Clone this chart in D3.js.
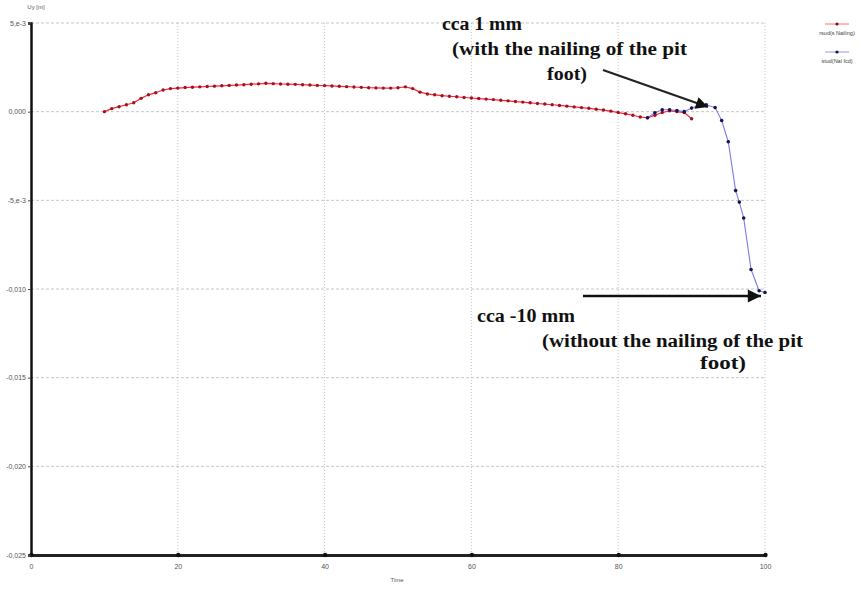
<!DOCTYPE html>
<html>
<head>
<meta charset="utf-8">
<style>
    body { margin: 0; background: #fff; }
    svg { display: block; font-family: Arial, sans-serif; }
    .note { font-family: 'Liberation Serif', 'DejaVu Serif', serif; font-weight: bold; font-size: 18px; fill: #111; }
    .tick text { fill: #555; font-size: 7px; }
</style>
</head>
<body>
<svg width="866" height="589"></svg>

<script src="https://d3js.org/d3.v7.min.js"></script>
<script>
// red series (with nailing) - time / Uy in mm (converted to m below)
let redX = [10,11,12,13,14,15,16,17,18,19,20,21,22,23,24,25,26,27,28,29,30,31,32,33,34,35,36,37,38,39,40,
    41,42,43,44,45,46,47,48,49,50,51,52,53,54,55,56,57,58,59,60,61,62,63,64,65,66,67,68,69,70,
    71,72,73,74,75,76,77,78,79,80,81,82,83,84,85,86,87,88,89,90]
let redY = [0,0.17,0.28,0.39,0.5,0.75,0.95,1.07,1.22,1.3,1.33,1.36,1.38,1.4,1.42,1.44,1.46,1.48,1.5,1.52,1.55,1.57,1.6,1.58,1.56,1.55,1.54,1.52,1.5,1.48,1.47,
    1.45,1.43,1.41,1.39,1.37,1.35,1.34,1.33,1.33,1.35,1.4,1.3,1.1,1.0,0.95,0.9,0.87,0.84,0.8,0.77,
    0.74,0.71,0.68,0.64,0.61,0.57,0.54,0.5,0.46,0.43,0.39,0.35,0.31,0.27,0.23,0.19,0.14,0.09,0.03,-0.05,
    -0.12,-0.2,-0.3,-0.35,-0.2,-0.05,0.05,0.0,-0.05,-0.4]

// blue series (without nailing)
let blueX = [84,85,86,87,88,89,90,91,92,93.2,94.1,95,96,96.5,97.1,98.1,99.2,100]
let blueY = [-0.34,-0.06,0.11,0.11,0.06,0.0,0.2,0.35,0.39,0.23,-0.5,-1.7,-4.45,-5.1,-6.0,-8.9,-10.1,-10.2]

let xTicks = [0, 20, 40, 60, 80, 100]
let yTicks = [0.005, 0, -0.005, -0.010, -0.015, -0.020, -0.025]
let yTickLabels = ["5,e-3", "0,000", "-5,e-3", "-0,010", "-0,015", "-0,020", "-0,025"]
let legendNames = ["rsud(s Nailing)", "stud(Nal fcd)"]

let svg = d3.select("svg")
let margin = { top: 23, right: 101, bottom: 34, left: 31 }
let width = 866, height = 589

let x = d3.scaleLinear().domain([0, 100]).range([margin.left, width - margin.right])
let y = d3.scaleLinear().domain([-0.025, 0.005]).range([height - margin.bottom, margin.top])

// grid
svg.append("g")
    .selectAll("line")
    .data(yTicks)
    .join("line")
    .attr("x1", x(0)).attr("x2", x(100))
    .attr("y1", d => y(d)).attr("y2", d => y(d))
    .attr("stroke", "#b8b8b8")
    .attr("stroke-dasharray", "3,2")
    .attr("stroke-width", 0.8)

svg.append("g")
    .selectAll("line")
    .data(xTicks.slice(1))
    .join("line")
    .attr("x1", d => x(d)).attr("x2", d => x(d))
    .attr("y1", y(0.005)).attr("y2", y(-0.025))
    .attr("stroke", "#b8b8b8")
    .attr("stroke-dasharray", "1,2")
    .attr("stroke-width", 0.8)

// axes
let xAxis = svg.append("g")
    .attr("transform", `translate(0,${y(-0.025)})`)
    .call(d3.axisBottom(x).tickValues(xTicks).tickSize(0).tickPadding(9))
xAxis.select(".domain").attr("stroke", "#222").attr("stroke-width", 3)
xAxis.selectAll(".tick").append("circle").attr("r", 2.2).attr("fill", "#111")

let yAxis = svg.append("g")
    .attr("transform", `translate(${x(0)},0)`)
    .call(d3.axisLeft(y).tickValues(yTicks).tickSize(3).tickPadding(2)
        .tickFormat((d, i) => yTickLabels[i]))
yAxis.select(".domain").attr("stroke", "#111").attr("stroke-width", 2.5)
yAxis.selectAll(".tick line").attr("stroke", "#444")

svg.append("text").attr("x", 36).attr("y", 9).attr("text-anchor", "middle")
    .attr("font-size", 6).attr("fill", "#555").text("Uy [m]")
svg.append("text").attr("x", 397).attr("y", 582).attr("text-anchor", "middle")
    .attr("font-size", 6).attr("fill", "#555").text("Time")

// series
let line = d3.line().x(d => x(d[0])).y(d => y(d[1] / 1000))
let red = redX.map((d, i) => [d, redY[i]])
let blue = blueX.map((d, i) => [d, blueY[i]])

svg.append("path").datum(red).attr("d", line)
    .attr("fill", "none").attr("stroke", "#ff2a2a").attr("stroke-width", 1.2)
svg.append("g").selectAll("circle").data(red).join("circle")
    .attr("cx", d => x(d[0])).attr("cy", d => y(d[1] / 1000)).attr("r", 1.7)
    .attr("fill", "#a01028")

svg.append("path").datum(blue).attr("d", line)
    .attr("fill", "none").attr("stroke", "#7b7be6").attr("stroke-width", 1.1)
svg.append("g").selectAll("circle").data(blue).join("circle")
    .attr("cx", d => x(d[0])).attr("cy", d => y(d[1] / 1000)).attr("r", 1.8)
    .attr("fill", "#141450")

// legend
let legendColors = [["#ff4a4a", "#7a1020"], ["#7b7be6", "#141450"]]
let legend = svg.append("g").selectAll("g").data(legendNames).join("g")
    .attr("transform", (d, i) => `translate(837,${24 + i * 28})`)
legend.append("line").attr("x1", -12).attr("x2", 12)
    .attr("stroke", (d, i) => legendColors[i][0]).attr("stroke-width", 0.8)
legend.append("circle").attr("r", 1.6).attr("fill", (d, i) => legendColors[i][1])
legend.append("text").attr("y", 11).attr("text-anchor", "middle")
    .attr("font-size", 5.5).attr("fill", "#444").text(d => d)

// annotations
svg.append("defs").append("marker")
    .attr("id", "head").attr("viewBox", "0 0 10 10")
    .attr("refX", 10).attr("refY", 5)
    .attr("markerWidth", 7).attr("markerHeight", 5.5)
    .attr("markerUnits", "strokeWidth")
    .attr("orient", "auto")
    .append("path").attr("d", "M0,0L10,5L0,10Z").attr("fill", "#111")

svg.append("line").attr("x1", 603).attr("y1", 70).attr("x2", 708).attr("y2", 107)
    .attr("stroke", "#222").attr("stroke-width", 2.2).attr("marker-end", "url(#head)")
svg.append("line").attr("x1", 583).attr("y1", 296).attr("x2", 761).attr("y2", 296)
    .attr("stroke", "#111").attr("stroke-width", 2.4).attr("marker-end", "url(#head)")

// text, x, baseline y, rendered width
let notes = [
    ["cca 1 mm", 442, 30, 80],
    ["(with the nailing of the pit", 452, 55, 235],
    ["foot)", 547, 80, 40],
    ["cca -10 mm", 477, 322, 98],
    ["(without the nailing of the pit", 542, 347, 261],
    ["foot)", 700, 369, 46]
]
svg.append("g").selectAll("text").data(notes).join("text")
    .attr("class", "note")
    .attr("x", d => d[1]).attr("y", d => d[2])
    .attr("textLength", d => d[3])
    .attr("lengthAdjust", "spacingAndGlyphs")
    .text(d => d[0])
</script>
</body>
</html>
